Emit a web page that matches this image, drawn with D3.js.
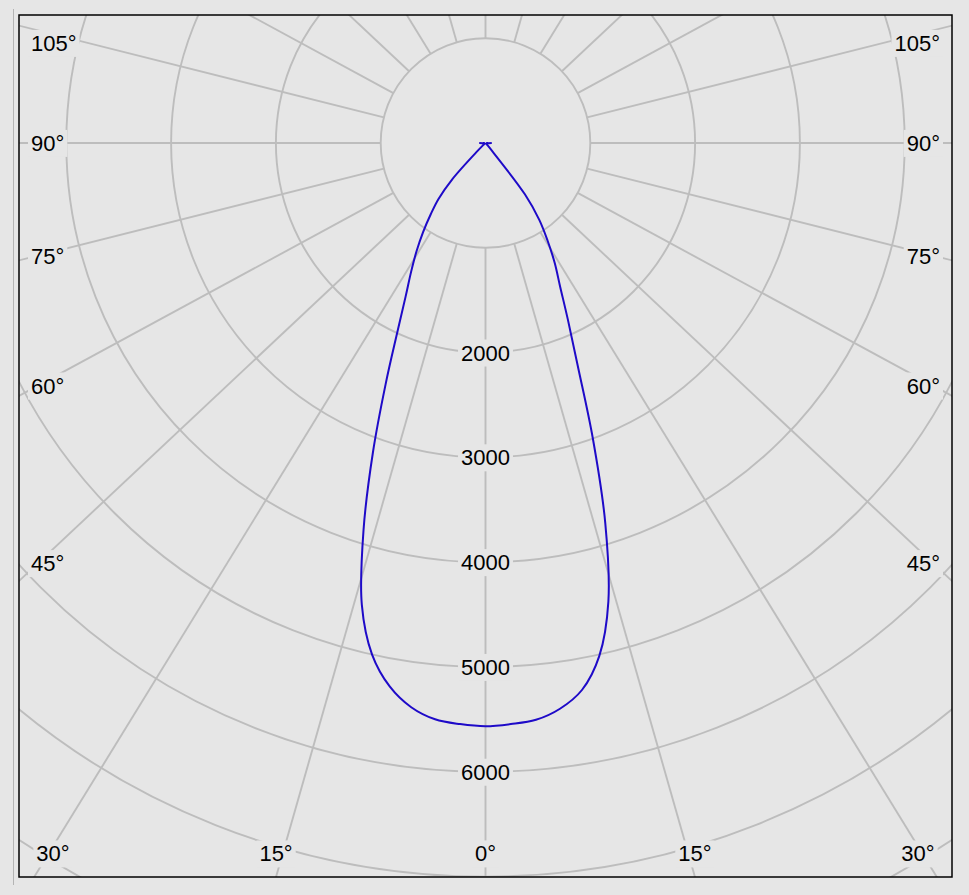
<!DOCTYPE html>
<html lang="en">
<head>
<meta charset="utf-8">
<title>Polar intensity diagram</title>
<script src="https://cdn.jsdelivr.net/npm/d3@7"></script>
<style>
  body { margin: 0; background: #e6e6e6; }
  text { font-family: "Liberation Sans", Arial, sans-serif; font-size: 22px; fill: #000; }
</style>
</head>
<body>
<script>
// gamma angles (deg from nadir) and intensities (cd) for the two half planes
var angles = [0, 2.5, 5, 7.5, 10, 12.5, 15, 17.5, 20, 22.5, 25, 27.5, 30, 32.5, 35, 37.5, 40, 42.5, 45,
              47.5, 50, 52.5, 55, 57.5, 60, 62.5, 65, 67.5, 70, 72.5, 75, 77.5, 80, 82.5, 85, 87.5, 90];
var leftValues = [5565, 5550, 5520, 5430, 5265, 5000, 4560, 3870, 3140, 2490, 1990, 1650, 1420, 1225, 1040, 860, 700, 470, 110,
                  30, 15, 10, 10, 10, 10, 10, 10, 10, 10, 10, 10, 10, 10, 10, 12, 30, 60];
var rightValues = [5565, 5550, 5525, 5445, 5300, 5015, 4530, 3800, 2990, 2300, 1860, 1540, 1320, 1100, 895, 620, 80, 20, 10,
                   10, 10, 10, 10, 10, 10, 10, 10, 10, 10, 10, 10, 10, 10, 10, 12, 30, 60];

var ringValues = [1000, 2000, 3000, 4000, 5000, 6000, 7000, 8000];
var ringLabels = [2000, 3000, 4000, 5000, 6000];
var spokeAngles = [0, 15, 30, 45, 60, 75, 90, 105, 120, 135, 150, 165, 180];
var sideLabels = [45, 60, 75, 90, 105];
var bottomLabels = [0, 15, 30];

var w = 969, h = 895;
var cx = 485.5, cy = 143;
var box = {left: 19, top: 15, right: 952, bottom: 877};
var bg = "#e6e6e6", gridColor = "#bdbdbd";
var spokeStretch = 1.065;   // the spokes are drawn a little wider than true angles

var rScale = d3.scaleLinear().domain([0, 1000]).range([0, 104.8]);

var svg = d3.select("body").append("svg")
    .attr("width", w)
    .attr("height", h);

svg.append("rect").attr("width", w).attr("height", h).attr("fill", bg);

// thin gray line left of the plot
svg.append("line")
    .attr("x1", 13.5).attr("x2", 13.5).attr("y1", 9).attr("y2", 885)
    .attr("stroke", "#b4b4b4").attr("stroke-width", 1);

svg.append("clipPath").attr("id", "plotClip")
  .append("rect")
    .attr("x", box.left).attr("y", box.top)
    .attr("width", box.right - box.left).attr("height", box.bottom - box.top);

var grid = svg.append("g").attr("clip-path", "url(#plotClip)");

// rings
grid.selectAll("circle.ring")
  .data(ringValues)
  .enter()
    .append("circle")
    .attr("class", "ring")
    .attr("cx", cx).attr("cy", cy)
    .attr("r", function(d) { return rScale(d); })
    .attr("fill", "none")
    .attr("stroke", gridColor)
    .attr("stroke-width", 1.9);

function spokeDir(deg) {
    var a = deg * Math.PI / 180;
    var dx = spokeStretch * Math.sin(a), dy = Math.cos(a);
    var n = Math.hypot(dx, dy);
    return [dx / n, dy / n];
}

// spokes, both sides, starting at the inner ring
var spokes = [];
spokeAngles.forEach(function(a) {
    spokes.push(a);
    if (a > 0 && a < 180) spokes.push(-a);
});

grid.selectAll("line.spoke")
  .data(spokes)
  .enter()
    .append("line")
    .attr("class", "spoke")
    .attr("x1", function(d) { return cx + spokeDir(d)[0] * rScale(1000); })
    .attr("y1", function(d) { return cy + spokeDir(d)[1] * rScale(1000); })
    .attr("x2", function(d) { return cx + spokeDir(d)[0] * 1500; })
    .attr("y2", function(d) { return cy + spokeDir(d)[1] * 1500; })
    .attr("stroke", gridColor)
    .attr("stroke-width", 1.9);

// labels with a background patch that cuts the grid
var labels = svg.append("g");
function addLabel(x, y, txt, anchor) {
    var g = labels.append("g");
    var t = g.append("text")
        .attr("x", x).attr("y", y)
        .attr("dy", "0.36em")
        .attr("text-anchor", anchor)
        .text(txt);
    var b = t.node().getBBox();
    g.insert("rect", "text")
        .attr("x", b.x - 3).attr("y", b.y - 1)
        .attr("width", b.width + 6).attr("height", b.height + 2)
        .attr("fill", bg);
}

ringLabels.forEach(function(v) {
    addLabel(cx, cy + rScale(v), String(v), "middle");
});

sideLabels.forEach(function(a) {
    var d = spokeDir(a);
    var y = cy + (cx - (box.left + 19)) * d[1] / d[0];
    y = Math.max(box.top + 28, Math.min(box.bottom - 24, y));
    addLabel(box.left + 12, y, a + "°", "start");
    addLabel(box.right - 12, y, a + "°", "end");
});

bottomLabels.forEach(function(a) {
    var d = spokeDir(a);
    var off = (box.bottom - cy) * d[0] / d[1];
    var y = box.bottom - 23.5;
    var xr = Math.min(box.right - 34, cx + off);
    var xl = Math.max(box.left + 34, cx - off);
    addLabel(xr, y, a + "°", "middle");
    if (a > 0) addLabel(xl, y, a + "°", "middle");
});

// intensity curve: left half from 90° down to 0°, then right half 0° to 90°
var pts = [];
for (var i = angles.length - 1; i >= 0; i--) {
    pts.push({a: Math.PI + angles[i] * Math.PI / 180, v: leftValues[i]});
}
for (var j = 1; j < angles.length; j++) {
    pts.push({a: Math.PI - angles[j] * Math.PI / 180, v: rightValues[j]});
}

var curve = d3.lineRadial()
    .angle(function(d) { return d.a; })
    .radius(function(d) { return rScale(d.v); })
    .curve(d3.curveCatmullRom.alpha(0.5));

svg.append("path")
    .attr("transform", "translate(" + cx + "," + cy + ")")
    .attr("d", curve(pts))
    .attr("fill", "none")
    .attr("stroke", "#1e0ac8")
    .attr("stroke-width", 2);

// frame
svg.append("rect")
    .attr("x", box.left).attr("y", box.top)
    .attr("width", box.right - box.left).attr("height", box.bottom - box.top)
    .attr("fill", "none")
    .attr("stroke", "#000")
    .attr("stroke-width", 1.5);
</script>
</body>
</html>
